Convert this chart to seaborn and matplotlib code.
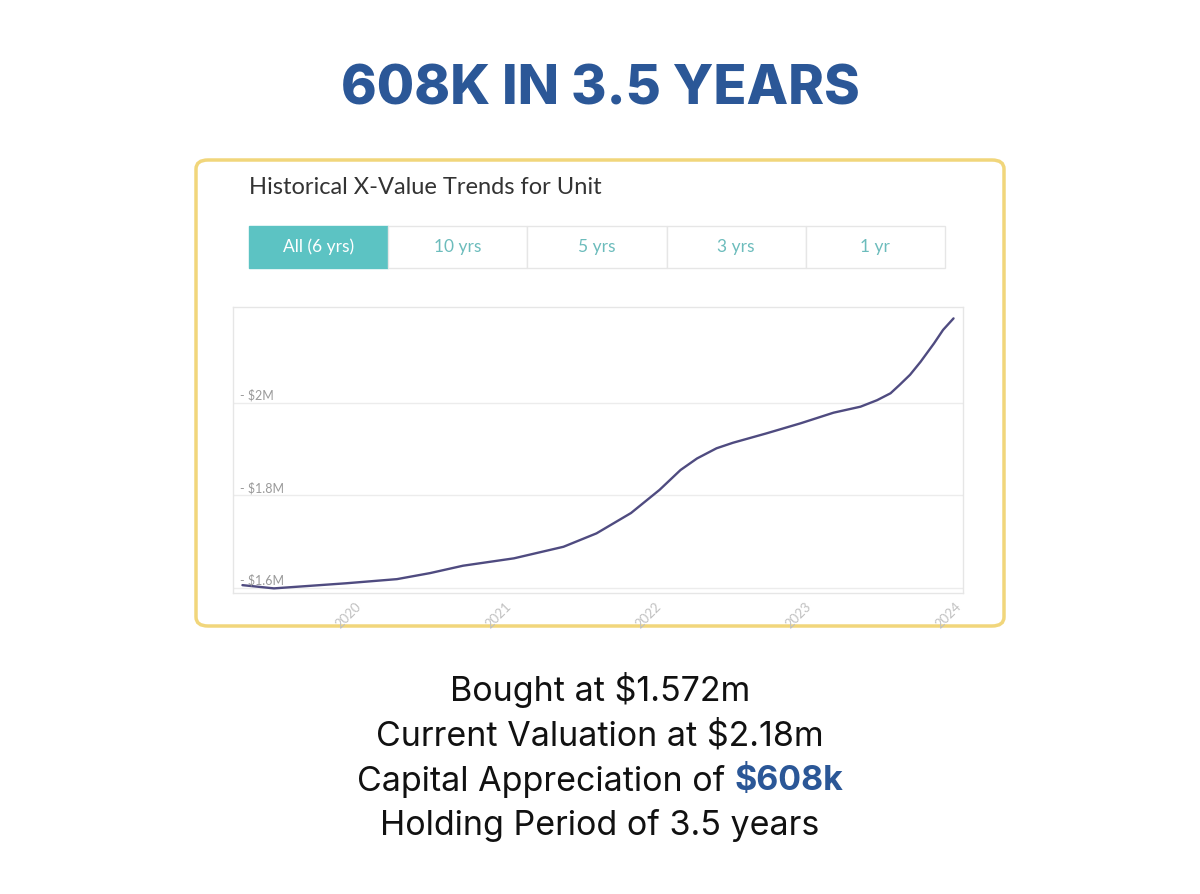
import numpy as np
import pandas as pd
import matplotlib
matplotlib.use('Agg')
import matplotlib.pyplot as plt
from matplotlib.patches import FancyBboxPatch, Rectangle
import seaborn as sns

# ─────────────────────────────────────────────
#  Data
# ─────────────────────────────────────────────
years = [2019.25, 2019.46, 2019.94, 2020.28, 2020.50, 2020.72, 2021.06,
         2021.39, 2021.61, 2021.84, 2022.03, 2022.17, 2022.28, 2022.41,
         2022.52, 2022.74, 2022.97, 2023.19, 2023.37, 2023.48, 2023.57,
         2023.63, 2023.70, 2023.77, 2023.86, 2023.92, 2023.99]
value_m = [1.606, 1.599, 1.610, 1.619, 1.632, 1.648, 1.664,
           1.689, 1.718, 1.762, 1.812, 1.855, 1.880, 1.902,
           1.914, 1.934, 1.956, 1.979, 1.992, 2.006, 2.021,
           2.039, 2.061, 2.089, 2.129, 2.158, 2.183]

x_ticks = [2020, 2021, 2022, 2023, 2024]
y_ticks = [1.6, 1.8, 2.0]
y_tick_labels = ["$1.6M", "$1.8M", "$2M"]

buttons = ["All (6 yrs)", "10 yrs", "5 yrs", "3 yrs", "1 yr"]

title = "608K IN 3.5 YEARS"
card_title = "Historical X-Value Trends for Unit"
summary = ["Bought at $1.572m", "Current Valuation at $2.18m",
           "Capital Appreciation of ", "Holding Period of 3.5 years"]
highlight = "$608k"

df = pd.DataFrame({"year": years, "value": value_m})

# ─────────────────────────────────────────────
#  Figure
# ─────────────────────────────────────────────
sns.set_theme(style="white")
plt.rcParams['font.family'] = ['Inter', 'DejaVu Sans']

W, H = 1200, 894
fig = plt.figure(figsize=(W / 100, H / 100), dpi=100)
fig.patch.set_facecolor("white")

def fx(px): return px / W
def fy(py): return 1 - py / H

BLUE = "#2b5797"
TEAL = "#5cc3c3"
SMALL = ["Lato", "DejaVu Sans"]

fig.text(0.5, fy(90), title, ha="center", va="center", fontsize=39,
         fontweight="heavy", color=BLUE)

# yellow card (drawn behind everything)
card = FancyBboxPatch((fx(196), fy(626)), fx(1004) - fx(196), fy(160) - fy(626),
                      boxstyle="round,pad=0,rounding_size=0.01",
                      transform=fig.transFigure, facecolor="white",
                      edgecolor="#f1d67b", linewidth=2.5, zorder=-5)
fig.patches.append(card)

fig.text(fx(249), fy(187), card_title, ha="left", va="center",
         fontsize=17, color="#333333", family=SMALL)

# button row
bx0, bw, by0, by1 = 249, 139.2, 226, 268
for i, lab in enumerate(buttons):
    left = bx0 + i * bw
    filled = i == 0
    r = Rectangle((fx(left), fy(by1)), fx(bw), fy(by0) - fy(by1),
                  transform=fig.transFigure,
                  facecolor=TEAL if filled else "white",
                  edgecolor=TEAL if filled else "#e6e6e6", linewidth=1,
                  zorder=-4)
    fig.patches.append(r)
    fig.text(fx(left + bw / 2), fy(247), lab, ha="center", va="center",
             fontsize=12.5, color="white" if filled else "#6cbcbc",
             family=SMALL)

# chart
ax = fig.add_axes([fx(233), fy(593), fx(963) - fx(233), fy(307) - fy(593)])
ax.set_zorder(2)
sns.lineplot(data=df, x="year", y="value", ax=ax, color="#4f4b80",
             linewidth=1.7)
ax.set_xlim(2019.187, 2024.053)
ax.set_ylim(1.589, 2.2076)
ax.set_xlabel("")
ax.set_ylabel("")
for s in ax.spines.values():
    s.set_color("#e6e6e6")
    s.set_linewidth(1)
ax.set_yticks(y_ticks)
ax.set_yticklabels([])
ax.tick_params(axis="y", length=0)
ax.yaxis.grid(True, color="#ececec", linewidth=1)
ax.set_axisbelow(True)
for yv, lab in zip(y_ticks, y_tick_labels):
    ax.text(0.01, yv + 0.016, "- " + lab, transform=ax.get_yaxis_transform(),
            ha="left", va="center", fontsize=9, color="#9a9a9a", family=SMALL)
ax.set_xticks(x_ticks)
ax.set_xticklabels([str(t) for t in x_ticks], rotation=45, ha="right",
                   rotation_mode="anchor", fontsize=9.5, color="#c0c0c0",
                   family=SMALL)
ax.tick_params(axis="x", length=0, pad=5)

# summary lines
line_y = [690, 736, 781, 826]
for txt, yy in zip(summary, line_y):
    if txt.startswith("Capital"):
        continue
    fig.text(0.5, fy(yy), txt, ha="center", va="center", fontsize=24.5,
             color="#111111")

fig.canvas.draw()
renderer = fig.canvas.get_renderer()
t1 = fig.text(0, fy(line_y[2]), summary[2], ha="left", va="center",
              fontsize=24.5, color="#111111")
t2 = fig.text(0, fy(line_y[2]), highlight, ha="left", va="center",
              fontsize=24.5, fontweight="bold", color=BLUE)
w1 = t1.get_window_extent(renderer).width / W
w2 = t2.get_window_extent(renderer).width / W
start = 0.5 - (w1 + w2) / 2
t1.set_x(start)
t2.set_x(start + w1)

fig.savefig("out.png", dpi=100, facecolor="white")
